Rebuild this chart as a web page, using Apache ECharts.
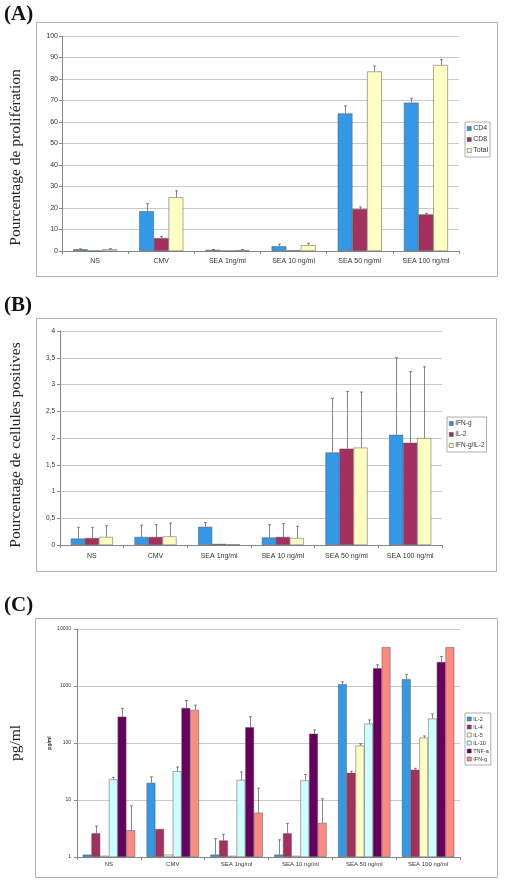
<!DOCTYPE html>
<html><head><meta charset="utf-8">
<script src="https://cdn.jsdelivr.net/npm/echarts@6/dist/echarts.min.js"></script>
<style>html,body{margin:0;padding:0;background:#fff}#c{width:505px;height:880px}</style>
</head><body><div id="c"></div>
<script>
// ---------- data ----------
const categories = ['NS', 'CMV', 'SEA 1ng/ml', 'SEA 10 ng/ml', 'SEA 50 ng/ml', 'SEA 100 ng/ml'];

// Panel A
const cd4 = [0.8, 18.5, 0.5, 2.2, 64, 69];
const cd4Err = [1.0, 22, 0.7, 3.2, 67.5, 71];
const cd8 = [0.1, 6, 0.1, 0.3, 19.5, 17];
const cd8Err = [null, 6.8, null, null, 20.5, 17.5];
const totalA = [0.8, 25, 0.4, 2.7, 83.5, 86.5];
const totalAErr = [1.1, 28, 0.7, 3.6, 86, 89];

// Panel B
const bIfng = [0.12, 0.15, 0.34, 0.14, 1.73, 2.06];
const bIfngErr = [0.33, 0.37, 0.42, 0.38, 2.74, 3.5];
const bIl2 = [0.13, 0.15, 0.02, 0.15, 1.8, 1.91];
const bIl2Err = [0.33, 0.38, null, 0.40, 2.87, 3.24];
const bBoth = [0.15, 0.16, 0.01, 0.13, 1.82, 2.0];
const bBothErr = [0.36, 0.41, null, 0.35, 2.86, 3.33];

// Panel C
const cIl2 = [1.1, 20, 1.1, 1.1, 1075, 1320];
const cIl2Err = [null, 25.5, 2.1, 2.0, 1180, 1600];
const cIl4 = [2.6, 3.1, 1.95, 2.6, 30, 34];
const cIl4Err = [3.5, null, 2.5, 3.9, 32, 36];
const cIl5 = [1.05, 1.1, 1.05, 1.05, 90, 124];
const cIl5Err = [null, null, null, null, 97, 133];
const cIl10 = [23, 32, 22.5, 22, 219, 268];
const cIl10Err = [25, 38, 31, 28, 254, 323];
const cTnf = [290, 413, 189, 146, 2050, 2640];
const cTnfErr = [406, 556, 290, 169, 2350, 3300];
const cIfng = [2.95, 380, 6.0, 3.96, 4800, 4800];
const cIfngErr = [7.9, 460, 16.1, 10.5, null, null];

const yTicksB = ['0', '0,5', '1', '1,5', '2', '2,5', '3', '3,5', '4'];
const yTicksC = ['1', '10', '100', '1000', '10000'];

// ---------- styling ----------
const BLUE = '#3399E6', MAROON = '#A3305F', YELLOW = '#FFFFC4', CYAN = '#CCFFFF', PURPLE = '#66005F', SALMON = '#FF8A80';
const SANS = 'Liberation Sans', SERIF = 'Liberation Serif';
const GAP_A = 0.335, GAP_B = 0.34, GAP_C = 0.18;

function errSeries(name, gi, n, idx, gap, vals, errs) {
  return {
    type: 'custom', name: name + '_err', xAxisIndex: gi, yAxisIndex: gi, z: 5,
    silent: true,
    data: categories.map((_, i) => [i, errs[i], vals[i]]).filter(d => d[1] != null),
    encode: { x: 0, y: 1 },
    renderItem: function (params, api) {
      const x = api.value(0), top = api.value(1), base = api.value(2);
      const band = api.size([1, 1])[0];
      const bw = band * (1 - gap) / n;
      const off = -band * (1 - gap) / 2 + bw * (idx + 0.5);
      const p1 = api.coord([x, base]), p2 = api.coord([x, top]);
      const cx = Math.round(p1[0] + off) + 0.5;
      const st = { stroke: '#555', lineWidth: 0.7 };
      return { type: 'group', children: [
        { type: 'line', shape: { x1: cx, y1: p1[1], x2: cx, y2: p2[1] }, style: st },
        { type: 'line', shape: { x1: cx - 1.5, y1: p2[1], x2: cx + 1.5, y2: p2[1] }, style: st }
      ]};
    }
  };
}
function bar(name, gi, color, vals, gap) {
  return {
    type: 'bar', name: name, xAxisIndex: gi, yAxisIndex: gi, data: vals,
    barGap: '0%', barCategoryGap: (gap * 100) + '%',
    itemStyle: { color: color, borderColor: '#555', borderWidth: 0.5 }
  };
}
function xAxis(gi, margin, fs) {
  return {
    type: 'category', gridIndex: gi, data: categories,
    axisLine: { lineStyle: { color: '#888', width: 1 } },
    axisTick: { show: true, length: 3, lineStyle: { color: '#888' } },
    axisLabel: { fontFamily: SANS, fontSize: fs, color: '#333', margin: margin, interval: 0 }
  };
}
function legend(names, left, top, gap, fs) {
  return {
    data: names, left: left, top: top, orient: 'vertical',
    itemWidth: 4, itemHeight: 4, itemGap: gap, icon: 'rect',
    itemStyle: { borderWidth: 0.5, borderColor: '#444' },
    backgroundColor: '#fff', borderColor: '#999', borderWidth: 0.8, padding: [3, 2, 3, 2],
    textStyle: { fontFamily: SANS, fontSize: fs, color: '#333', padding: [0, 0, 0, -3] },
    formatter: n => n.replace(/ \[.\]$/, ''),
    selectedMode: false
  };
}
const yCommon = {
  axisLine: { show: true, lineStyle: { color: '#888', width: 1 } },
  axisTick: { show: true, length: 3, lineStyle: { color: '#888' } },
  splitLine: { lineStyle: { color: '#c8c8c8', width: 1 } },
  nameLocation: 'middle', nameRotate: 90
};
const nameStyle = (pr) => ({ fontFamily: SERIF, fontSize: 15.5, color: '#222', padding: [0, pr, 0, 0] });

const chart = echarts.init(document.getElementById('c'), null, { renderer: 'canvas' });
chart.setOption({
  backgroundColor: '#fff',
  animation: false,
  grid: [
    { left: 62, right: 46, top: 36, bottom: 629 },
    { left: 60, right: 63, top: 331, bottom: 335 },
    { left: 77, right: 45, top: 629, bottom: 23 }
  ],
  xAxis: [xAxis(0, 7, 7), xAxis(1, 8, 7), xAxis(2, 4, 6)],
  yAxis: [
    Object.assign({}, yCommon, { type: 'value', gridIndex: 0, min: 0, max: 100, interval: 10,
      name: 'Pourcentage de prolifération', nameGap: 38, nameTextStyle: nameStyle(28),
      axisLabel: { fontFamily: SANS, fontSize: 7, color: '#333', margin: 4 } }),
    Object.assign({}, yCommon, { type: 'value', gridIndex: 1, min: 0, max: 4, interval: 0.5,
      name: 'Pourcentage de cellules positives', nameGap: 36, nameTextStyle: nameStyle(14),
      axisLabel: { fontFamily: SANS, fontSize: 6.5, color: '#333', margin: 5,
        formatter: (v) => yTicksB[Math.round(v / 0.5)] } }),
    Object.assign({}, yCommon, { type: 'log', logBase: 10, gridIndex: 2, min: 1, max: 10000,
      name: 'pg/ml', nameGap: 53, nameTextStyle: nameStyle(0),
      minorSplitLine: { show: false },
      axisLabel: { fontFamily: SANS, fontSize: 5, color: '#333', margin: 6,
        formatter: (v) => yTicksC[Math.round(Math.log10(v))] } })
  ],
  legend: [
    legend(['CD4', 'CD8', 'Total'], 465, 122, 4, 7),
    legend(['IFN-g [B]', 'IL-2 [B]', 'IFN-g/IL-2'], 447, 417, 4, 6.5),
    legend(['IL-2 [C]', 'IL-4', 'IL-5', 'IL-10', 'TNF-a', 'IFN-g [C]'], 465, 713, 2, 5.5)
  ],
  graphic: [
    { type: 'rect', shape: { x: 36.5, y: 22.5, width: 461, height: 254 }, style: { fill: 'none', stroke: '#b0b0b0', lineWidth: 1 }, z: -10 },
    { type: 'rect', shape: { x: 36.5, y: 318.5, width: 460, height: 253 }, style: { fill: 'none', stroke: '#b0b0b0', lineWidth: 1 }, z: -10 },
    { type: 'rect', shape: { x: 35.5, y: 618.5, width: 462, height: 259 }, style: { fill: 'none', stroke: '#b0b0b0', lineWidth: 1 }, z: -10 },
    { type: 'text', left: 4, top: 4, z: 10, style: { text: '(A)', font: 'bold 21px "Liberation Serif"', fill: '#111', backgroundColor: '#fff' } },
    { type: 'text', left: 4, top: 295, z: 10, style: { text: '(B)', font: 'bold 21px "Liberation Serif"', fill: '#111', backgroundColor: '#fff' } },
    { type: 'text', left: 4, top: 595, z: 10, style: { text: '(C)', font: 'bold 21px "Liberation Serif"', fill: '#111', backgroundColor: '#fff' } },
    { type: 'text', x: 50, y: 743, rotation: Math.PI / 2, z: 10,
      style: { text: 'pg/ml', font: 'bold 5px "Liberation Sans"', fill: '#333', align: 'center', verticalAlign: 'middle' } }
  ],
  series: [
    bar('CD4', 0, BLUE, cd4, GAP_A), bar('CD8', 0, MAROON, cd8, GAP_A), bar('Total', 0, YELLOW, totalA, GAP_A),
    errSeries('CD4', 0, 3, 0, GAP_A, cd4, cd4Err), errSeries('CD8', 0, 3, 1, GAP_A, cd8, cd8Err), errSeries('Total', 0, 3, 2, GAP_A, totalA, totalAErr),

    bar('IFN-g [B]', 1, BLUE, bIfng, GAP_B), bar('IL-2 [B]', 1, MAROON, bIl2, GAP_B), bar('IFN-g/IL-2', 1, YELLOW, bBoth, GAP_B),
    errSeries('bIfng', 1, 3, 0, GAP_B, bIfng, bIfngErr), errSeries('bIl2', 1, 3, 1, GAP_B, bIl2, bIl2Err), errSeries('bBoth', 1, 3, 2, GAP_B, bBoth, bBothErr),

    bar('IL-2 [C]', 2, BLUE, cIl2, GAP_C), bar('IL-4', 2, MAROON, cIl4, GAP_C), bar('IL-5', 2, YELLOW, cIl5, GAP_C),
    bar('IL-10', 2, CYAN, cIl10, GAP_C), bar('TNF-a', 2, PURPLE, cTnf, GAP_C), bar('IFN-g [C]', 2, SALMON, cIfng, GAP_C),
    errSeries('cIl2', 2, 6, 0, GAP_C, cIl2, cIl2Err), errSeries('cIl4', 2, 6, 1, GAP_C, cIl4, cIl4Err),
    errSeries('cIl5', 2, 6, 2, GAP_C, cIl5, cIl5Err), errSeries('cIl10', 2, 6, 3, GAP_C, cIl10, cIl10Err),
    errSeries('cTnf', 2, 6, 4, GAP_C, cTnf, cTnfErr), errSeries('cIfng', 2, 6, 5, GAP_C, cIfng, cIfngErr)
  ]
});
</script></body></html>
